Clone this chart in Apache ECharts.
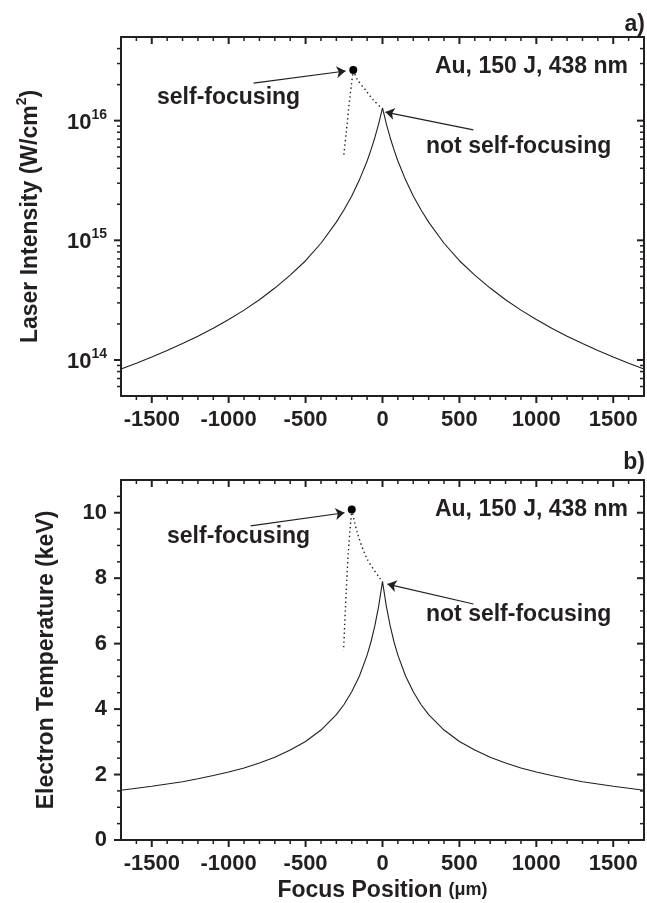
<!DOCTYPE html>
<html>
<head>
<meta charset="utf-8">
<script src="https://cdn.jsdelivr.net/npm/echarts@6/dist/echarts.min.js"></script>
<style>
  html, body { margin: 0; padding: 0; background: #ffffff; }
  #chart { width: 647px; height: 903px; }
</style>
</head>
<body>
<div id="chart"></div>
<script>
// Focus position scan (µm) and the resulting peak laser intensity / electron temperature
const focusPos = [-1700, -1600, -1500, -1400, -1300, -1200, -1100, -1000, -900, -800, -700, -600, -500, -400, -300, -250, -200, -150, -100, -75, -50, -25, 0,
  25, 50, 75, 100, 150, 200, 250, 300, 400, 500, 600, 700, 800, 900, 1000, 1100, 1200, 1300, 1400, 1500, 1600, 1700];
const intensity = [8.4e13, 9.4e13, 1.06e14, 1.2e14, 1.37e14, 1.58e14, 1.84e14, 2.18e14, 2.61e14, 3.19e14, 3.99e14, 5.12e14, 6.75e14, 9.45e14, 1.42e15, 1.8e15, 2.35e15, 3.2e15, 4.6e15, 5.7e15, 7.2e15, 9.4e15, 1.28e16,
  9.4e15, 7.2e15, 5.7e15, 4.6e15, 3.2e15, 2.35e15, 1.8e15, 1.42e15, 9.45e14, 6.75e14, 5.12e14, 3.99e14, 3.19e14, 2.61e14, 2.18e14, 1.84e14, 1.58e14, 1.37e14, 1.2e14, 1.06e14, 9.4e13, 8.4e13];
const temperature = [1.52, 1.58, 1.64, 1.71, 1.78, 1.87, 1.97, 2.08, 2.2, 2.35, 2.53, 2.75, 3.01, 3.36, 3.83, 4.14, 4.53, 5.01, 5.65, 6.05, 6.54, 7.14, 7.9,
  7.14, 6.54, 6.05, 5.65, 5.01, 4.53, 4.14, 3.83, 3.36, 3.01, 2.75, 2.53, 2.35, 2.2, 2.08, 1.97, 1.87, 1.78, 1.71, 1.64, 1.58, 1.52];

// Self-focusing point and the dotted guide lines around it
const sfIntensityPoint = [[-190, 2.65e16]];
const sfIntensityFall = [[-190, 2.65e16], [-214, 1.49e16], [-236, 7.9e15], [-253, 5.0e15]];
const sfIntensityJoin = [[-190, 2.65e16], [-162, 2.19e16], [-110, 1.8e16], [-60, 1.49e16], [-13, 1.3e16]];
const sfTempPoint = [[-200, 10.1]];
const sfTempFall = [[-200, 10.1], [-221, 8.88], [-236, 7.58], [-253, 5.8]];
const sfTempJoin = [[-200, 10.1], [-164, 9.39], [-99, 8.58], [-13, 7.97]];

// Annotation arrows: [from, to]
const intensityArrows = [[[-838, 2.06e16], [-240, 2.6e16]], [[591, 8.36e15], [19, 1.18e16]]];
const tempArrows = [[[-857, 9.6], [-247, 10.0]], [[591, 7.21], [32, 7.82]]];

// Axis ticks
const xMajor = [-1500, -1000, -500, 0, 500, 1000, 1500];
const xMinor = [-1600, -1400, -1300, -1200, -1100, -900, -800, -700, -600, -400, -300, -200, -100,
  100, 200, 300, 400, 600, 700, 800, 900, 1100, 1200, 1300, 1400, 1600];
const iMajor = [1e14, 1e15, 1e16];
const iMinor = [6e13, 7e13, 8e13, 9e13, 2e14, 3e14, 4e14, 5e14, 6e14, 7e14, 8e14, 9e14,
  2e15, 3e15, 4e15, 5e15, 6e15, 7e15, 8e15, 9e15, 2e16, 3e16, 4e16];
const tMajor = [0, 2, 4, 6, 8, 10];
const tMinor = [0.5, 1, 1.5, 2.5, 3, 3.5, 4.5, 5, 5.5, 6.5, 7, 7.5, 8.5, 9, 9.5, 10.5];

const FONT = '"Liberation Sans", Arial, Helvetica, sans-serif';
const INK = '#231f20';
const MAJOR_LEN = 7;
const MINOR_LEN = 4;

const boxLine = { show: true, onZero: false, lineStyle: { color: INK, width: 2 } };

function xAxes(grid, withName) {
  const base = { gridIndex: grid, type: 'value', min: -1700, max: 1700, splitLine: { show: false }, axisTick: { show: false } };
  const bottom = Object.assign({}, base, {
    position: 'bottom', axisLine: boxLine,
    axisLabel: { show: true, customValues: xMajor, formatter: v => String(v), margin: 13,
      fontSize: 22, fontWeight: 'bold', color: INK, fontFamily: FONT }
  });
  if (withName) {
    Object.assign(bottom, {
      name: '{t|Focus Position }{u|(μm)}', nameLocation: 'middle', nameGap: 39,
      nameTextStyle: { color: INK, fontFamily: FONT, fontWeight: 'bold', fontSize: 22,
        rich: { t: { fontSize: 23, fontWeight: 'bold', fontFamily: FONT, color: INK },
                u: { fontSize: 18, fontWeight: 'bold', fontFamily: FONT, color: INK } } }
    });
  }
  const top = Object.assign({}, base, { position: 'top', axisLine: boxLine, axisLabel: { show: false } });
  return [bottom, top];
}

function yAxes(grid, cfg) {
  const base = Object.assign({ gridIndex: grid, splitLine: { show: false }, axisTick: { show: false } }, cfg.scale);
  return [
    Object.assign({}, base, {
      position: 'left', axisLine: boxLine,
      axisLabel: Object.assign({ show: true, customValues: cfg.major, margin: 14,
        fontSize: 22, fontWeight: 'bold', color: INK, fontFamily: FONT }, cfg.label),
      name: cfg.name, nameLocation: 'middle', nameGap: cfg.nameGap,
      nameTextStyle: { color: INK, fontFamily: FONT, fontWeight: 'bold', fontSize: 23, rich: cfg.nameRich }
    }),
    Object.assign({}, base, { position: 'right', axisLine: boxLine, axisLabel: { show: false } })
  ];
}

// Tick marks: left/bottom ticks point outward, right/top ticks point inward.
// Each item: [x, y, direction (0 = x tick, 1 = y tick), length]
function tickItems(xMaj, xMin, yMaj, yMin, xRef, yRef) {
  const items = [];
  xMaj.forEach(v => items.push([v, yRef, 0, MAJOR_LEN]));
  xMin.forEach(v => items.push([v, yRef, 0, MINOR_LEN]));
  yMaj.forEach(v => items.push([xRef, v, 1, MAJOR_LEN]));
  yMin.forEach(v => items.push([xRef, v, 1, MINOR_LEN]));
  return items;
}

function renderTick(params, api) {
  const cs = params.coordSys;
  const len = api.value(3);
  const style = { stroke: INK, lineWidth: len > 5 ? 2 : 1.5 };
  const pt = api.coord([api.value(0), api.value(1)]);
  if (api.value(2) === 0) {
    const x = pt[0], top = cs.y, bottom = cs.y + cs.height;
    return { type: 'group', children: [
      { type: 'line', shape: { x1: x, y1: bottom, x2: x, y2: bottom + len }, style: style },
      { type: 'line', shape: { x1: x, y1: top, x2: x, y2: top + len }, style: style }
    ] };
  }
  const y = pt[1], left = cs.x, right = cs.x + cs.width;
  return { type: 'group', children: [
    { type: 'line', shape: { x1: left - len, y1: y, x2: left, y2: y }, style: style },
    { type: 'line', shape: { x1: right - len, y1: y, x2: right, y2: y }, style: style }
  ] };
}

function tickSeries(xi, yi, items) {
  return { type: 'custom', xAxisIndex: xi, yAxisIndex: yi, data: items, renderItem: renderTick,
    clip: false, silent: true, z: 5 };
}

const supRich = {
  b: { fontSize: 22, fontWeight: 'bold', fontFamily: FONT, color: INK, lineHeight: 26, verticalAlign: 'bottom' },
  sup: { fontSize: 14, fontWeight: 'bold', fontFamily: FONT, color: INK, lineHeight: 14, verticalAlign: 'top' }
};

const nameRich = {
  t: { fontSize: 23, fontWeight: 'bold', fontFamily: FONT, color: INK, lineHeight: 27, verticalAlign: 'bottom' },
  s: { fontSize: 14, fontWeight: 'bold', fontFamily: FONT, color: INK, lineHeight: 14, verticalAlign: 'top' }
};

function curve(xi, yi, xs, ys) {
  return {
    type: 'line', xAxisIndex: xi, yAxisIndex: yi, data: xs.map((x, i) => [x, ys[i]]),
    showSymbol: false, symbol: 'none', silent: true,
    lineStyle: { color: INK, width: 1.1 }, z: 3
  };
}

function dotted(xi, yi, pts) {
  return {
    type: 'line', xAxisIndex: xi, yAxisIndex: yi, data: pts,
    showSymbol: false, symbol: 'none', silent: true, smooth: 0.3,
    lineStyle: { color: INK, width: 1.4, type: [1.4, 3] }, z: 3
  };
}

function point(xi, yi, pts, arrows) {
  return {
    type: 'scatter', xAxisIndex: xi, yAxisIndex: yi, data: pts,
    symbol: 'circle', symbolSize: 8, itemStyle: { color: '#000000', opacity: 1 }, silent: true, z: 4,
    markLine: {
      silent: true, symbol: ['none', 'arrow'], symbolSize: 9,
      label: { show: false },
      lineStyle: { color: INK, width: 1.2, type: 'solid', opacity: 1 },
      data: arrows.map(a => [{ coord: a[0] }, { coord: a[1] }])
    }
  };
}

function note(text, x, y, align) {
  return {
    type: 'text', silent: true, z: 10,
    style: {
      text: text, x: x, y: y, fill: INK,
      font: 'bold 23px ' + FONT,
      align: align, textAlign: align, verticalAlign: 'middle', textVerticalAlign: 'middle'
    }
  };
}

const chart = echarts.init(document.getElementById('chart'), null, { renderer: 'canvas' });
chart.setOption({
  animation: false,
  backgroundColor: '#ffffff',
  grid: [
    { left: 121, right: 3, top: 37, height: 359, containLabel: false, outerBoundsMode: 'none' },
    { left: 121, right: 3, top: 480, height: 360, containLabel: false, outerBoundsMode: 'none' }
  ],
  xAxis: xAxes(0, false).concat(xAxes(1, true)),
  yAxis: yAxes(0, {
    scale: { type: 'log', logBase: 10, min: 5e13, max: 5e16 },
    major: iMajor,
    label: { formatter: v => '{b|10}{sup|' + Math.round(Math.log10(v)) + '}', rich: supRich },
    name: '{t|Laser Intensity (W/cm}{s|2}{t|)}', nameGap: 79, nameRich: nameRich
  }).concat(yAxes(1, {
    scale: { type: 'value', min: 0, max: 11 },
    major: tMajor,
    label: { formatter: v => String(v) },
    name: 'Electron Temperature (keV)', nameGap: 63, nameRich: {}
  })),
  series: [
    curve(0, 0, focusPos, intensity),
    dotted(0, 0, sfIntensityFall),
    dotted(0, 0, sfIntensityJoin),
    point(0, 0, sfIntensityPoint, intensityArrows),
    tickSeries(0, 0, tickItems(xMajor, xMinor, iMajor, iMinor, 0, 1e15)),
    curve(2, 2, focusPos, temperature),
    dotted(2, 2, sfTempFall),
    dotted(2, 2, sfTempJoin),
    point(2, 2, sfTempPoint, tempArrows),
    tickSeries(2, 2, tickItems(xMajor, xMinor, tMajor, tMinor, 0, 5))
  ],
  graphic: [
    note('a)', 645, 25, 'right'),
    note('Au, 150 J, 438 nm', 628, 67, 'right'),
    note('self-focusing', 157, 98, 'left'),
    note('not self-focusing', 426, 147, 'left'),
    note('b)', 645, 463, 'right'),
    note('Au, 150 J, 438 nm', 628, 510, 'right'),
    note('self-focusing', 167, 537, 'left'),
    note('not self-focusing', 426, 615, 'left')
  ]
});
</script>
</body>
</html>
